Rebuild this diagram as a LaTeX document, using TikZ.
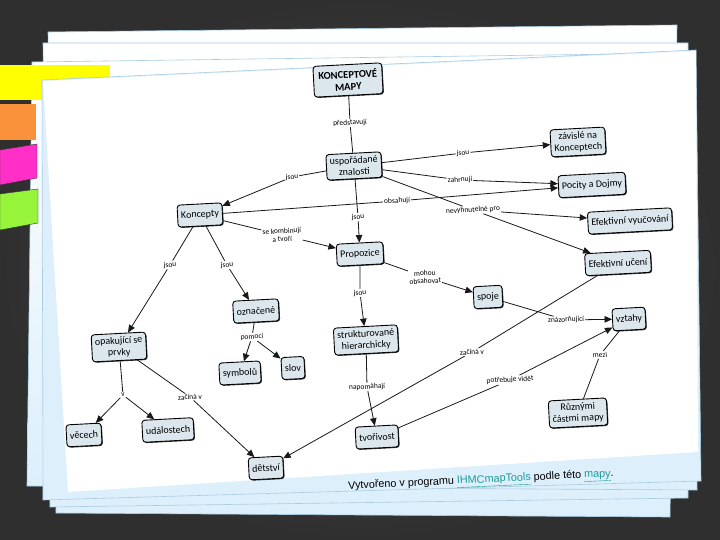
\documentclass[tikz,border=0pt]{standalone}
\usepackage{fontspec}
\setmainfont{Carlito}
\newfontfamily\arialf{Liberation Sans}
\usetikzlibrary{arrows.meta,shadows}
\pgfdeclarelayer{bglayer}
\pgfdeclarelayer{edgelayer}
\pgfsetlayers{bglayer,edgelayer,main}
\definecolor{bgin}{HTML}{4E4E4E}
\definecolor{bgout}{HTML}{2F2F2F}
\definecolor{sheetblue}{HTML}{DCEFFB}
\definecolor{sheetedge}{HTML}{A9CCE2}
\definecolor{nodefill}{HTML}{DCE7ED}
\definecolor{linkc}{HTML}{1F9A9A}
\definecolor{tabyellow}{HTML}{FFFF00}
\definecolor{taborange}{HTML}{F9923A}
\definecolor{tabpink}{HTML}{FF2FC8}
\definecolor{tabgreen}{HTML}{96F53A}
\tikzset{
  sheet/.style={draw=sheetedge, line width=0.6pt, top color=white, bottom color=sheetblue},
  cnode/.style={draw=black, line width=0.9pt, rounded corners=3pt, fill=nodefill,
    font=\fontsize{10}{11.5}\selectfont, align=center, inner xsep=3.5pt, inner ysep=3.5pt,
    minimum height=22pt, rotate=3,
    drop shadow={shadow xshift=0.9pt, shadow yshift=-0.9pt, fill=black!80, opacity=1}},
  lbl/.style={font=\fontsize{7.5}{8}\selectfont, fill=white, inner sep=0.8pt, rotate=3, align=center},
  conn/.style={draw=black!90, line width=0.8pt},
  arr/.style={conn, -{Triangle[length=7.5pt,width=6.5pt]}}
}
\begin{document}
\begin{tikzpicture}[x=1pt,y=-1pt]
\useasboundingbox (0,0) rectangle (720,540);
\begin{pgfonlayer}{bglayer}
% background
\shade[inner color=bgin, outer color=bgout] (0,0) rectangle (720,540);
% back sheets
\path[sheet] (48,32) -- (677,25) -- (670,517) -- (56,513) -- cycle;
\path[sheet] (43,43) -- (688,43) -- (688,498) -- (50,507) -- cycle;
\path[sheet] (32,62) -- (695,53) -- (697,490) -- (27,486) -- cycle;
% tabs
\fill[tabyellow] (0,65) rectangle (110,100);
\fill[taborange] (0,104) rectangle (36,140);
\filldraw[fill=tabpink, draw=black!80, line width=0.4pt] (0,150) -- (37,144) -- (37,178) -- (0,185) -- cycle;
\filldraw[fill=tabgreen, draw=black!80, line width=0.4pt] (0,194) -- (38,189) -- (38,223) -- (0,230) -- cycle;
% front sheet and white map area
\path[draw=sheetedge, line width=0.6pt, fill=sheetblue] (42,80) -- (696,50) -- (701,481) -- (43,500) -- cycle;
\fill[white] (43,81) -- (696,51) -- (698,452) -- (68,492) -- cycle;
\end{pgfonlayer}

% nodes
\node[cnode, font=\bfseries\fontsize{10.5}{12}\selectfont, inner sep=5pt] (KM) at (348,80) {KONCEPTOVÉ\\MAPY};
\node[cnode] (US) at (354,166) {uspořádané\\znalosti};
\node[cnode] (KO) at (200,215) {Koncepty};
\node[cnode] (ZN) at (578,142) {závislé na\\Konceptech};
\node[cnode] (PD) at (592,185) {Pocity a Dojmy};
\node[cnode] (EV) at (630,221) {Efektivní vyučování};
\node[cnode] (EU) at (618,263) {Efektivní učení};
\node[cnode] (PR) at (360,254) {Propozice};
\node[cnode] (OZ) at (256,311) {označené};
\node[cnode] (SY) at (240,373) {symbolů};
\node[cnode] (SL) at (293,368) {slov};
\node[cnode] (OP) at (119,347) {opakující se\\prvky};
\node[cnode] (VE) at (84,435) {věcech};
\node[cnode] (UD) at (168,430) {událostech};
\node[cnode] (DE) at (266,468) {dětství};
\node[cnode] (SP) at (488,297) {spoje};
\node[cnode] (ST) at (366,340) {strukturované\\hierarchicky};
\node[cnode] (VZ) at (629,319) {vztahy};
\node[cnode] (RU) at (578,413) {Různými\\částmi mapy};
\node[cnode] (TV) at (377,437) {tvořivost};

% labels
\node[lbl] (lpred) at (350,123) {představují};
\node[lbl] (lj1) at (292,177) {jsou};
\node[lbl] (lj2) at (463,153) {jsou};
\node[lbl] (lzah) at (460,180) {zahrnují};
\node[lbl] (lobs) at (397,201) {obsahují};
\node[lbl] (lnev) at (473,210) {nevyhnutelné pro};
\node[lbl] (lj3) at (358,217) {jsou};
\node[lbl] (lkomb) at (282,235) {se kombinují\\a tvoří};
\node[lbl] (lj4) at (170,265) {jsou};
\node[lbl] (lj5) at (227,265) {jsou};
\node[lbl] (lpom) at (252,337) {pomocí};
\node[lbl] (lv) at (123,395) {v};
\node[lbl] (lzac1) at (190,397) {začíná v};
\node[lbl] (lmoh) at (425,277) {mohou\\obsahovat};
\node[lbl] (lj6) at (360,293) {jsou};
\node[lbl] (lzna) at (566,320) {znázorňující};
\node[lbl] (lzac2) at (472,352) {začíná v};
\node[lbl] (lmez) at (600,355) {mezi};
\node[lbl] (lnap) at (367,387) {napomáhají};
\node[lbl] (lpot) at (510,380) {potřebuje vidět};

% connectors
\begin{pgfonlayer}{edgelayer}
\draw[conn] (KM) -- (lpred);
\draw[conn] (lpred) -- (US);
\draw[conn] (US) -- (lj1);
\draw[arr] (lj1) -- (KO);
\draw[conn] (US) -- (lj2);
\draw[arr] (lj2) -- (ZN);
\draw[conn] (US) -- (lzah);
\draw[arr] (lzah) -- (PD);
\draw[conn] (KO) -- (lobs);
\draw[arr] (lobs) -- (PD);
\draw[conn] (US) -- (lnev);
\draw[arr] (lnev) -- (EV);
\draw[arr] (lnev) -- (EU);
\draw[conn] (US) -- (lj3);
\draw[arr] (lj3) -- (PR);
\draw[conn] (KO) -- (lkomb);
\draw[arr] (lkomb) -- (PR);
\draw[conn] (KO) -- (lj4);
\draw[arr] (lj4) -- (OP);
\draw[conn] (KO) -- (lj5);
\draw[arr] (lj5) -- (OZ);
\draw[conn] (OZ) -- (lpom);
\draw[arr] (lpom) -- (SY);
\draw[arr] (lpom) -- (SL);
\draw[conn] (OP) -- (lv);
\draw[arr] (lv) -- (VE);
\draw[arr] (lv) -- (UD);
\draw[conn] (OP) -- (lzac1);
\draw[arr] (lzac1) -- (DE);
\draw[conn] (PR) -- (lj6);
\draw[arr] (lj6) -- (ST);
\draw[conn] (PR) -- (lmoh);
\draw[arr] (lmoh) -- (SP);
\draw[conn] (SP) -- (lzna);
\draw[arr] (lzna) -- (VZ);
\draw[conn] (ST) -- (lnap);
\draw[arr] (lnap) -- (TV);
\draw[conn] (EU) -- (lzac2);
\draw[arr] (lzac2) -- (DE);
\draw[conn] (TV) -- (lpot);
\draw[arr] (lpot) -- (VZ);
\draw[conn] (RU) -- (lmez);
\draw[conn] (lmez) -- (VZ);
\end{pgfonlayer}

% credit line
\node[rotate=2.7, font=\arialf\fontsize{10.8}{12}\selectfont, inner sep=0pt] (credit) at (481,481)
  {Vytvořeno v programu \textcolor{linkc}{\underline{IHMCmapTools}} podle této \textcolor{linkc}{\underline{mapy}}.};
\end{tikzpicture}
\end{document}
